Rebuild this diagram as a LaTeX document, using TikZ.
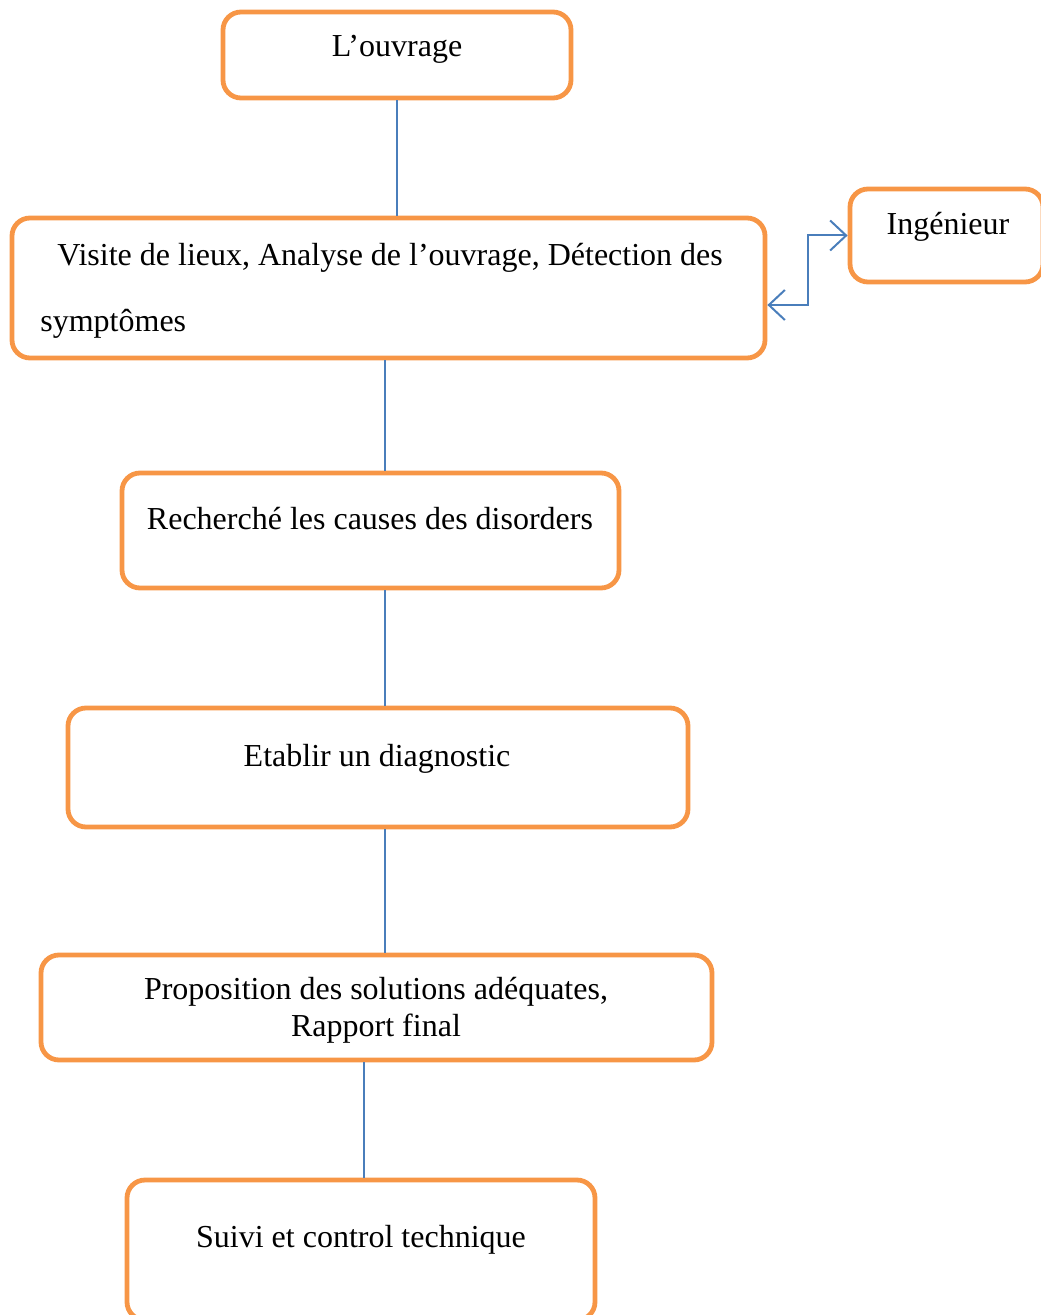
\documentclass[tikz,border=0pt]{standalone}
\usepackage{fontspec}
\setmainfont{Liberation Serif}
\usetikzlibrary{arrows.meta,positioning}
\definecolor{boxorange}{HTML}{F79646}
\definecolor{linkblue}{HTML}{4A7EBB}

\begin{document}
\begin{tikzpicture}[
  x=0.5pt, y=-0.5pt,
  font=\fontsize{16}{19}\selectfont,
  box/.style={rectangle, rounded corners=9pt, draw=boxorange, line width=2.4pt, inner sep=0pt},
  txt/.style={inner sep=0pt, anchor=mid},
  link/.style={draw=linkblue, line width=1pt},
  both/.style={link, {Straight Barb[length=8pt,width=15pt]}-{Straight Barb[length=8pt,width=15pt]}}
]
\useasboundingbox (0,0) rectangle (1040,1315);

% boxes
\node[box, minimum width=174pt, minimum height=43pt] (ouvrage) at (397,55) {};
\node[box, minimum width=376.5pt, minimum height=70pt] (visite) at (388.5,288) {};
\node[box, minimum width=96.5pt, minimum height=46.5pt] (ingenieur) at (946.5,235.5) {};
\node[box, minimum width=248.5pt, minimum height=57.5pt] (causes) at (370.5,530.5) {};
\node[box, minimum width=310pt, minimum height=59.5pt] (diagnostic) at (378,767.5) {};
\node[box, minimum width=335.5pt, minimum height=52.5pt] (solutions) at (376.5,1007.5) {};
\node[box, minimum width=234pt, minimum height=70pt] (suivi) at (361,1250) {};

% texts
\node[txt] (t-ouvrage) at (397,52) {L’ouvrage};
\node[txt, anchor=mid west] (t-visite1) at (57,261) {Visite de lieux, Analyse de l’ouvrage, Détection des};
\node[txt, anchor=mid west] (t-visite2) at (40,327) {symptômes};
\node[txt] (t-ingenieur) at (948,230) {Ingénieur};
\node[txt] (t-causes) at (370,525) {Recherché les causes des disorders};
\node[txt] (t-diagnostic) at (377,762) {Etablir un diagnostic};
\node[txt] (t-solutions1) at (376,995) {Proposition des solutions adéquates,};
\node[txt] (t-solutions2) at (376,1032) {Rapport final};
\node[txt] (t-suivi) at (361,1243) {Suivi et control technique};

% connectors
\coordinate (spine) at (385,0);
\coordinate (spine2) at (364,0);
\coordinate (bend) at (808,305);
\draw[link] (ouvrage.south) -- (ouvrage.south |- visite.north);
\draw[link] (visite.south -| spine) -- (causes.north -| spine);
\draw[link] (causes.south -| spine) -- (diagnostic.north -| spine);
\draw[link] (diagnostic.south -| spine) -- (solutions.north -| spine);
\draw[link] (solutions.south -| spine2) -- (suivi.north -| spine2);
\draw[both] (visite.east |- bend) -- (bend) |- (ingenieur.west);
\end{tikzpicture}
\end{document}
